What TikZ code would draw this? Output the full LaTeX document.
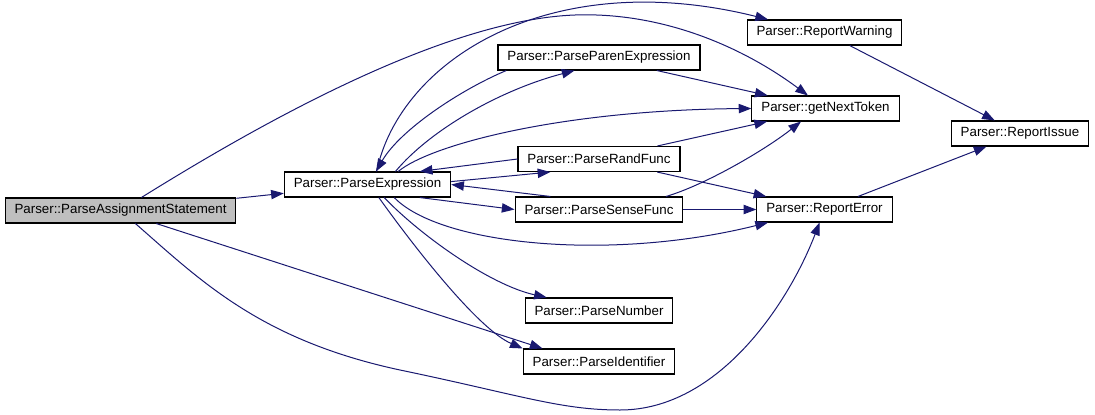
\documentclass[tikz,border=0pt]{standalone}
\usepackage{fontspec}
\setmainfont{Liberation Sans}
\usetikzlibrary{arrows.meta}
\definecolor{edgeblue}{HTML}{191970}
\definecolor{nodegray}{HTML}{BFBFBF}

\begin{document}
\begin{tikzpicture}[x=0.75pt,y=-0.75pt,
  fn/.style={rectangle,draw,line width=0.8pt,minimum height=18.75pt,inner xsep=7.1pt,inner ysep=0pt,font=\fontsize{10}{12}\selectfont},
  call/.style={draw=edgeblue,line width=0.75pt,-{Triangle[length=9.5pt,width=7pt]}}]
\useasboundingbox (0,0) rectangle (1095,414);
\node [fn,fill=nodegray] (pas) at (120.5,210.5) {Parser::ParseAssignmentStatement};
\node [fn] (pe) at (367.5,184.5) {Parser::ParseExpression};
\node [fn] (ppe) at (599,57.5) {Parser::ParseParenExpression};
\node [fn] (rw) at (824.5,32.5) {Parser::ReportWarning};
\node [fn] (gnt) at (825.5,108.5) {Parser::getNextToken};
\node [fn] (ri) at (1020,133.5) {Parser::ReportIssue};
\node [fn] (prf) at (599,159) {Parser::ParseRandFunc};
\node [fn] (psf) at (599,209.5) {Parser::ParseSenseFunc};
\node [fn] (re) at (824.5,209.5) {Parser::ReportError};
\node [fn] (pn) at (599,310.5) {Parser::ParseNumber};
\node [fn] (pi) at (599,361.5) {Parser::ParseIdentifier};

\draw [call] (pas) -- (pe);
\draw [call] (pas) .. controls (250,130) and (440,20) .. (575,15) .. controls (660,12) and (740,45) .. (gnt);
\draw [call] (pas) .. controls (200,280) and (260,340) .. (400,370) .. controls (520,395) and (560,410) .. (620,410) .. controls (720,410) and (790,300) .. (re);
\draw [call] (pas.340) -- (pi.167);
\draw [call] (pe.55) .. controls (400,60) and (550,-35) .. (rw.167);
\draw [call] (pe.23) .. controls (430,145) and (560,110) .. (gnt.west);
\draw [call] (pe.25) .. controls (430,130) and (500,90) .. (ppe.208);
\draw [call] (ppe.188) .. controls (460,90) and (400,130) .. (pe.57);
\draw [call] (pe.2) -- (prf.195);
\draw [call] (prf.west) -- (pe.14);
\draw [call] (pe.346) -- (psf.west);
\draw [call] (psf.165) -- (pe.east);
\draw [call] (pe.334) .. controls (440,245) and (610,262) .. (re.193);
\draw [call] (pe.322) .. controls (420,235) and (490,285) .. (pn.166);
\draw [call] (pe.311) .. controls (420,255) and (480,330) .. (pi.north west);
\draw [call] (ppe) -- (gnt);
\draw [call] (prf) -- (gnt);
\draw [call] (psf.11) .. controls (705,185) and (765,150) .. (gnt.208);
\draw [call] (prf) -- (re);
\draw [call] (psf) -- (re);
\draw [call] (rw) -- (ri);
\draw [call] (re) -- (ri);
\end{tikzpicture}
\end{document}
